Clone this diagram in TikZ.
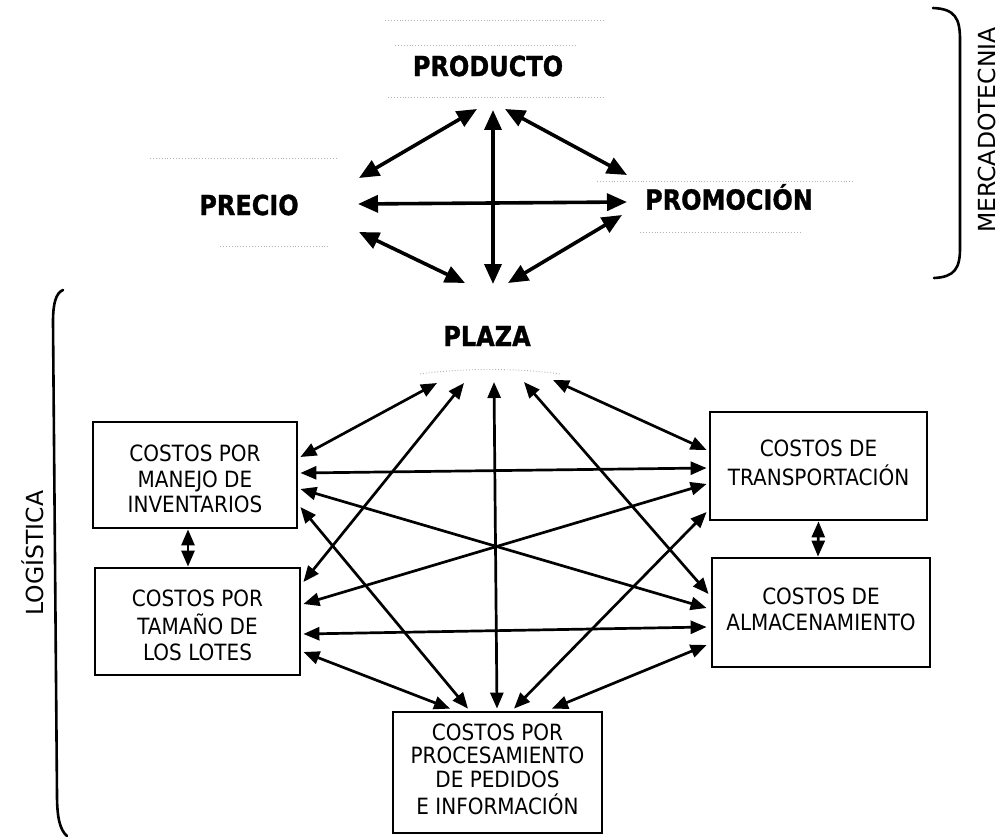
\documentclass[tikz,border=0pt]{standalone}
\usepackage{fontspec}
\usepackage{graphicx}
\setmainfont{DejaVu Sans}
\newfontfamily\headfont{DejaVu Sans Bold}[FakeBold=1.3]
\newcommand{\tallhead}[1]{\scalebox{1}[1.15]{#1}}
\newcommand{\tallbox}[1]{\scalebox{1}[1.12]{\begin{tabular}{@{}c@{}}#1\end{tabular}}}
\newcommand{\lowbox}[1]{\raisebox{-7pt}[\height][\depth]{\tallbox{#1}}}
\usetikzlibrary{arrows.meta}
\begin{document}
\begin{tikzpicture}[x=1pt,y=-1pt,
  box/.style={draw,line width=2.8pt,inner sep=0pt,align=center,
    font=\fontsize{20}{23}\selectfont},
  head/.style={inner sep=2pt,font=\fontsize{24}{28}\headfont},
  side/.style={rotate=90,inner sep=0pt,font=\fontsize{23.5}{28}\selectfont},
  big/.style={{Triangle[length=20pt,width=17pt]}-{Triangle[length=20pt,width=17pt]},line width=3.6pt},
  link/.style={{Triangle[length=16pt,width=13pt]}-{Triangle[length=16pt,width=13pt]},line width=2.7pt},
  brace/.style={line width=2.6pt,line cap=round},
  frame/.style={black!30,dotted,line width=0.9pt}
]
\useasboundingbox (0,0) rectangle (1000,837);

% faint frames left around the four headings
\draw[frame] (385,20) -- (603,20);
\draw[frame] (395,45) -- (575,45);
\draw[frame] (388,97) -- (605,97);
\draw[frame] (150,158) -- (337,158);
\draw[frame] (220,246) -- (330,246);
\draw[frame] (597,181) -- (853,181);
\draw[frame] (640,232) -- (800,232);
\draw[frame] (420,374) .. controls (460,368) and (520,368) .. (560,374);

% headings of the marketing mix
\node[head] (prod)  at (488,66)  {\tallhead{PRODUCTO}};
\node[head] (prec)  at (249,205) {\tallhead{PRECIO}};
\node[head] (prom)  at (729,197) {\tallhead{PROMOCIÓN}};
\node[head] (plaza) at (487,336) {\tallhead{PLAZA}};

% cost boxes
\node[box,minimum width=204pt,minimum height=106pt] (man) at (195,475)
  {\lowbox{COSTOS POR\\MANEJO DE\\INVENTARIOS}};
\node[box,minimum width=205pt,minimum height=107pt] (tam) at (197.5,621.5)
  {\lowbox{COSTOS POR\\TAMAÑO DE\\LOS LOTES}};
\node[box,minimum width=217pt,minimum height=108pt] (tra) at (818.5,466)
  {\tallbox{COSTOS DE\\TRANSPORTACIÓN}};
\node[box,minimum width=218pt,minimum height=109pt] (alm) at (821,612.5)
  {\tallbox{COSTOS DE\\ALMACENAMIENTO}};
\node[box,minimum width=209pt,minimum height=121pt,font=\fontsize{20}{20.5}\selectfont] (pro) at (497.5,772.5)
  {\tallbox{COSTOS POR\\PROCESAMIENTO\\DE PEDIDOS\\E INFORMACIÓN}};

% side labels and brackets
\node[side] (merc) at (987,130) {MERCADOTECNIA};
\node[side] (logi) at (33,553) {LOGÍSTICA};
\draw[brace] (933,8) .. controls (955,9) and (960,18) .. (960,40) -- (960,248)
  .. controls (960,268) and (955,277) .. (934,278);
\draw[brace] (63,290) .. controls (56,293) and (53,303) .. (53,322) -- (57,795)
  .. controls (57,818) and (60,830) .. (67,836);

% marketing mix relations
\draw[big] ([shift={(-11,43)}]prod.center) -- ([shift={(110,-27)}]prec.center);
\draw[big] ([shift={(5,44)}]prod.center) -- ([shift={(6,-52)}]plaza.center);
\draw[big] ([shift={(17,43)}]prod.center) -- ([shift={(-102,-22)}]prom.center);
\draw[big] ([shift={(109,-1)}]prec.center) -- ([shift={(-102,5)}]prom.center);
\draw[big] ([shift={(110,27)}]prec.center) -- ([shift={(-22,-53)}]plaza.center);
\draw[big] ([shift={(-107,18)}]prom.center) -- ([shift={(21,-53)}]plaza.center);

% logistics relations from PLAZA
\draw[link] ([shift={(-50,47)}]plaza.center) -- ([shift={(2,-18)}]man.east);
\draw[link] ([shift={(-23,47)}]plaza.center) -- ([shift={(2,-39.5)}]tam.east);
\draw[link] ([shift={(7,46)}]plaza.center) -- ([shift={(-0.5,-2)}]pro.north);
\draw[link] ([shift={(37,46)}]plaza.center) -- ([shift={(-2,-18.5)}]alm.west);
\draw[link] ([shift={(66,44)}]plaza.center) -- ([shift={(-2,-16)}]tra.west);

% relations between the cost boxes
\draw[link] ([shift={(2,-2)}]man.east) -- ([shift={(-2,2)}]tra.west);
\draw[link] ([shift={(2,14)}]man.east) -- ([shift={(-4,-4.5)}]alm.west);
\draw[link] ([shift={(2,32)}]man.east) -- ([shift={(-29.5,-2)}]pro.north);
\draw[link] ([shift={(2,-17.5)}]tam.east) -- ([shift={(-2,18)}]tra.west);
\draw[link] ([shift={(2,12.5)}]tam.east) -- ([shift={(-4,14.5)}]alm.west);
\draw[link] ([shift={(2,30.5)}]tam.east) -- ([shift={(-47.5,-2)}]pro.north);
\draw[link] ([shift={(-2,46)}]tra.west) -- ([shift={(16.5,-2)}]pro.north);
\draw[link] ([shift={(-4,32.5)}]alm.west) -- ([shift={(54.5,-2)}]pro.north);
\draw[link] ([shift={(-7,0)}]man.south) -- ([shift={(-9.5,0)}]tam.north);
\draw[link] ([shift={(0,0)}]tra.south) -- ([shift={(-3,0)}]alm.north);
\end{tikzpicture}
\end{document}
